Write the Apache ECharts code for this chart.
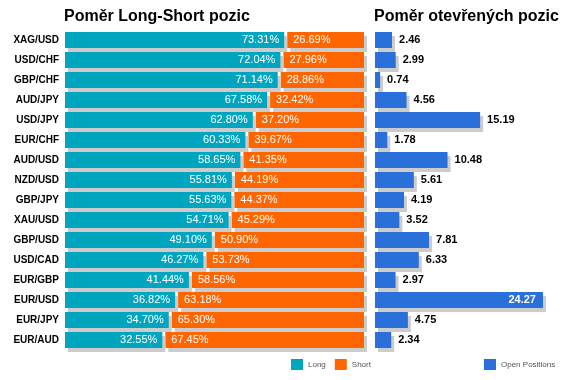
<!DOCTYPE html>
<html>
<head>
<meta charset="utf-8">
<script src="https://cdn.jsdelivr.net/npm/echarts@6/dist/echarts.min.js"></script>
<style>html,body{margin:0;padding:0;background:#fff}#c{width:571px;height:380px}</style>
</head>
<body>
<div id="c"></div>
<script>
const categories = ['XAG/USD','USD/CHF','GBP/CHF','AUD/JPY','USD/JPY','EUR/CHF','AUD/USD','NZD/USD','GBP/JPY','XAU/USD','GBP/USD','USD/CAD','EUR/GBP','EUR/USD','EUR/JPY','EUR/AUD'];
const longPct = [73.31,72.04,71.14,67.58,62.80,60.33,58.65,55.81,55.63,54.71,49.10,46.27,41.44,36.82,34.70,32.55];
const shortPct = [26.69,27.96,28.86,32.42,37.20,39.67,41.35,44.19,44.37,45.29,50.90,53.73,58.56,63.18,65.30,67.45];
const openPositions = [2.46,2.99,0.74,4.56,15.19,1.78,10.48,5.61,4.19,3.52,7.81,6.33,2.97,24.27,4.75,2.34];

const FONT = 'Arial, "Liberation Sans", sans-serif';
const TEAL = '#00a6bf', ORANGE = '#ff6600', BLUE = '#2970db', SHADOW = '#cccccc';
const shadow = {shadowColor: SHADOW, shadowOffsetX: 3, shadowOffsetY: 4, shadowBlur: 0};

const chart = echarts.init(document.getElementById('c'), null, {renderer: 'canvas'});
chart.setOption({
  animation: false,
  title: [
    {text: 'Poměr Long-Short pozic', left: 64, top: 9, padding: 0,
     textStyle: {fontFamily: FONT, fontSize: 16, fontWeight: 'bold', color: '#000'}},
    {text: 'Poměr otevřených pozic', left: 374, top: 9, padding: 0,
     textStyle: {fontFamily: FONT, fontSize: 16, fontWeight: 'bold', color: '#000'}}
  ],
  legend: [
    {data: ['Long', 'Short'], left: 291, top: 359, padding: 0, itemWidth: 12, itemHeight: 11, itemGap: 9,
     icon: 'rect', textStyle: {fontFamily: FONT, fontSize: 8, color: '#555'}},
    {data: ['Open Positions'], left: 484, top: 359, padding: 0, itemWidth: 12, itemHeight: 11,
     icon: 'rect', textStyle: {fontFamily: FONT, fontSize: 8, color: '#555'}}
  ],
  grid: [
    {left: 65, top: 30, width: 299, height: 320},
    {left: 375, top: 30, width: 173, height: 320}
  ],
  xAxis: [
    {gridIndex: 0, type: 'value', min: 0, max: 100, show: false},
    {gridIndex: 1, type: 'value', min: 0, max: 25, show: false}
  ],
  yAxis: [
    {gridIndex: 0, type: 'category', data: categories, inverse: true,
     axisLine: {show: false}, axisTick: {show: false}, splitLine: {show: false},
     axisLabel: {fontFamily: FONT, fontSize: 10, fontWeight: 'bold', color: '#000', margin: 6}},
    {gridIndex: 1, type: 'category', data: categories, inverse: true, show: false}
  ],
  series: [
    {name: 'Long', type: 'bar', xAxisIndex: 0, yAxisIndex: 0, data: longPct,
     barCategoryGap: '20%',
     itemStyle: Object.assign({color: TEAL}, shadow),
     label: {show: true, position: 'insideRight', distance: 5, color: '#fff',
             fontFamily: FONT, fontSize: 11,
             formatter: p => p.value.toFixed(2) + '%'}},
    {name: 'Short', type: 'custom', xAxisIndex: 0, yAxisIndex: 0,
     itemStyle: {color: ORANGE},
     data: categories.map((c, i) => [i, longPct[i], shortPct[i]]),
     encode: {x: [1], y: 0},
     renderItem: function (params, api) {
       const idx = api.value(0);
       const lv = api.value(1);
       const sv = api.value(2);
       const s = api.coord([lv, idx]);
       const e = api.coord([lv + sv, idx]);
       const h = api.size([0, 1])[1] * 0.8;
       return {
         type: 'rect',
         shape: {x: s[0] + 3, y: s[1] - h / 2, width: e[0] - s[0] - 3, height: h},
         style: Object.assign({fill: ORANGE}, shadow),
         textContent: {style: {text: sv.toFixed(2) + '%', fill: '#fff', font: '11px ' + FONT}},
         textConfig: {position: 'insideLeft', distance: 6}
       };
     }},
    {name: 'Open Positions', type: 'bar', xAxisIndex: 1, yAxisIndex: 1,
     barCategoryGap: '20%',
     data: openPositions.map(v => v > 20
       ? {value: v, label: {position: 'insideRight', color: '#fff'}}
       : v),
     itemStyle: Object.assign({color: BLUE}, shadow),
     label: {show: true, position: 'right', distance: 7, color: '#000',
             fontFamily: FONT, fontSize: 11, fontWeight: 'bold',
             formatter: p => p.value.toFixed(2)}}
  ]
});
</script>
</body>
</html>
